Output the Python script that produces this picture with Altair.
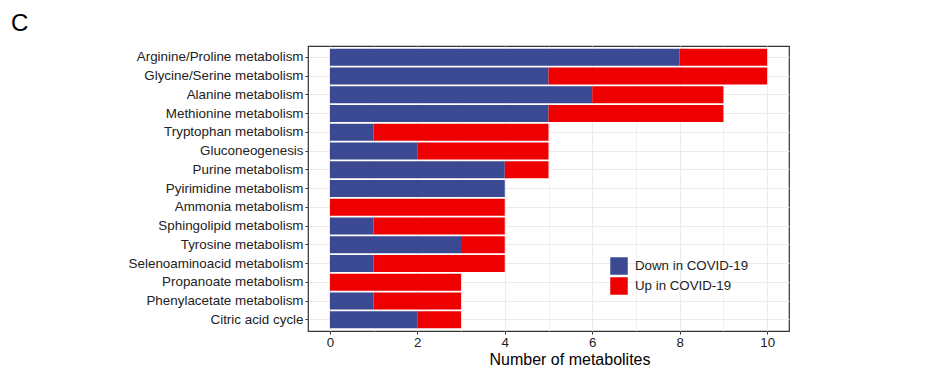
import altair as alt
import pandas as pd

pathways = [
    "Arginine/Proline metabolism",
    "Glycine/Serine metabolism",
    "Alanine metabolism",
    "Methionine metabolism",
    "Tryptophan metabolism",
    "Gluconeogenesis",
    "Purine metabolism",
    "Pyirimidine metabolism",
    "Ammonia metabolism",
    "Sphingolipid metabolism",
    "Tyrosine metabolism",
    "Selenoaminoacid metabolism",
    "Propanoate metabolism",
    "Phenylacetate metabolism",
    "Citric acid cycle",
]
down_counts = [8, 5, 6, 5, 1, 2, 4, 4, 0, 1, 3, 1, 0, 1, 2]
up_counts = [2, 5, 3, 4, 4, 3, 1, 0, 4, 3, 1, 3, 3, 2, 1]
groups = ["Down in COVID-19", "Up in COVID-19"]
colors = ["#3B4992", "#EE0000"]
x_ticks = [0, 1, 2, 3, 4, 5, 6, 7, 8, 9, 10]

rows = []
for p, d, u in zip(pathways, down_counts, up_counts):
    rows.append({"pathway": p, "direction": groups[0], "count": d, "rank": 0})
    rows.append({"pathway": p, "direction": groups[1], "count": u, "rank": 1})
df = pd.DataFrame(rows)

FONT = "Liberation Sans"

chart = (
    alt.Chart(df)
    .mark_bar()
    .encode(
        x=alt.X(
            "count:Q",
            stack="zero",
            scale=alt.Scale(domain=[-0.5, 10.5], nice=False, zero=False),
            axis=alt.Axis(
                title="Number of metabolites",
                values=x_ticks,
                labelExpr="datum.value % 2 === 0 ? datum.label : ''",
                tickOpacity={"condition": {"test": "datum.value % 2 === 0", "value": 1}, "value": 0},
                gridWidth={"condition": {"test": "datum.value % 2 === 0", "value": 1.1}, "value": 0.7},
                grid=True,
                gridColor="#EBEBEB",
                domain=False,
                tickSize=3,
                tickColor="#333333",
                labelFont=FONT,
                labelFontSize=13.3,
                labelColor="#222222",
                labelPadding=1,
                titleFont=FONT,
                titleFontSize=16,
                titleFontWeight="normal",
                titleColor="#000000",
                titleX=261.5,
                titleY=33,
                titleAlign="center",
                titleBaseline="alphabetic",
            ),
        ),
        y=alt.Y(
            "pathway:N",
            sort=pathways,
            scale=alt.Scale(paddingInner=0.1, paddingOuter=0.15),
            axis=alt.Axis(
                title=None,
                grid=True,
                gridColor="#EBEBEB",
                gridWidth=1.1,
                domain=False,
                tickSize=3,
                tickColor="#333333",
                labelFont=FONT,
                labelFontSize=13.4,
                labelColor="#222222",
                labelPadding=2,
            ),
        ),
        color=alt.Color(
            "direction:N",
            scale=alt.Scale(domain=groups, range=colors),
            legend=alt.Legend(
                title=None,
                orient="none",
                legendX=302,
                legendY=211,
                symbolType="square",
                symbolSize=306,
                symbolStrokeWidth=0,
                symbolOpacity=1,
                labelFont=FONT,
                labelFontSize=13.3,
                labelColor="#222222",
                labelOffset=7,
                rowPadding=2,
                padding=0,
            ),
        ),
        order=alt.Order("rank:Q", sort="ascending"),
    )
    .properties(
        width=481,
        height=285,
        background="white",
        autosize=alt.AutoSizeParams(type="none"),
        padding={"left": 300, "top": 38, "right": 120, "bottom": 37},
        title=alt.TitleParams(
            "C",
            anchor="start",
            frame="group",
            font=FONT,
            fontSize=24,
            fontWeight="normal",
            color="#000000",
            dx=-297,
            dy=23,
            offset=14,
            baseline="alphabetic",
        ),
    )
    .configure_view(stroke="#333333", strokeWidth=1.2)
)

chart.save("out.html", embed_options={"renderer": "svg", "actions": False})
